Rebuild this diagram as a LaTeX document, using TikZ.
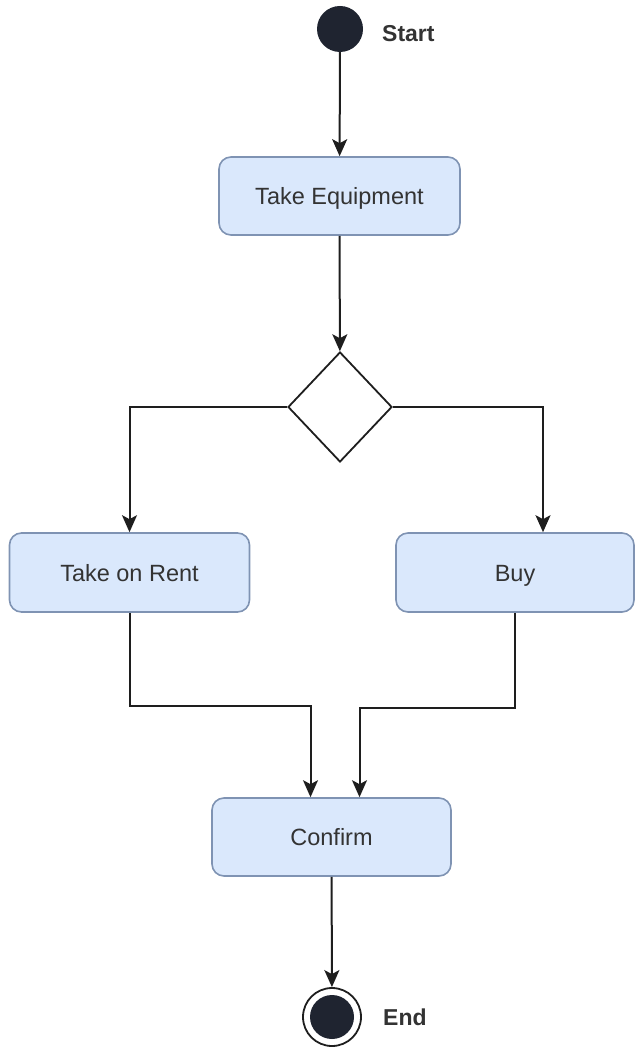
\documentclass[tikz,border=0pt]{standalone}
\usepackage{fontspec}
\setmainfont{Liberation Sans}
\usetikzlibrary{shapes.geometric,arrows.meta}
\definecolor{boxfill}{HTML}{DAE8FC}
\definecolor{boxline}{HTML}{7F93B3}
\definecolor{ink}{HTML}{1E1E1E}
\definecolor{dot}{HTML}{1F2430}
\definecolor{txt}{HTML}{333333}
\tikzset{
  action/.style={draw=boxline, line width=1.6pt, fill=boxfill, rounded corners=12pt,
    inner sep=0pt, text height=17pt, text depth=0pt,
    font=\fontsize{23.5pt}{28pt}\selectfont, text=txt},
  decision/.style={draw=ink, line width=1.8pt, fill=white, diamond, inner sep=0pt,
    minimum width=104pt, minimum height=110pt},
  flow/.style={draw=ink, line width=2pt, -{Stealth[length=17pt,width=15pt,inset=4pt]}},
  tag/.style={inner sep=0pt, anchor=west, font=\fontsize{23pt}{28pt}\selectfont\bfseries, text=txt}
}
\begin{document}
\begin{tikzpicture}[x=1pt,y=1pt]
  \useasboundingbox (0,0) rectangle (634,-1048);

  % initial node
  \node[circle, fill=dot, inner sep=0pt, minimum size=46pt] (start) at (340,-29) {};
  \node[tag] (startlbl) at (382,-34) {Start};

  % actions
  \node[action, minimum width=241pt, minimum height=78pt] (take) at (339.5,-196) {Take Equipment};
  \node[decision] (dec) at (340,-407) {};
  \node[action, minimum width=240pt, minimum height=79pt] (rent) at (129.5,-572.5) {Take on Rent};
  \node[action, minimum width=238pt, minimum height=79pt] (buy) at (515,-572.5) {Buy};
  \node[action, minimum width=239pt, minimum height=78pt] (confirm) at (331.5,-837) {Confirm};

  % final node
  \node[circle, draw=ink, line width=1.8pt, fill=white, inner sep=0pt, minimum size=58pt] (end) at (332,-1017) {};
  \node[circle, fill=dot, inner sep=0pt, minimum size=44pt] (endcore) at (end.center) {};
  \node[tag] (endlbl) at (383,-1017) {End};

  % control flow
  \draw[flow] (start) -- (take);
  \draw[flow] (take) -- (dec);
  \draw[flow] (dec.west) -| (rent.north);
  \draw[flow] (dec.east) -| ([xshift=28pt]buy.north);
  \draw[flow] (rent.south) -- ++(0,-93) -| ([xshift=-21pt]confirm.north);
  \draw[flow] (buy.south) -- ++(0,-95) -| ([xshift=28pt]confirm.north);
  \draw[flow] (confirm) -- (end);
\end{tikzpicture}
\end{document}
